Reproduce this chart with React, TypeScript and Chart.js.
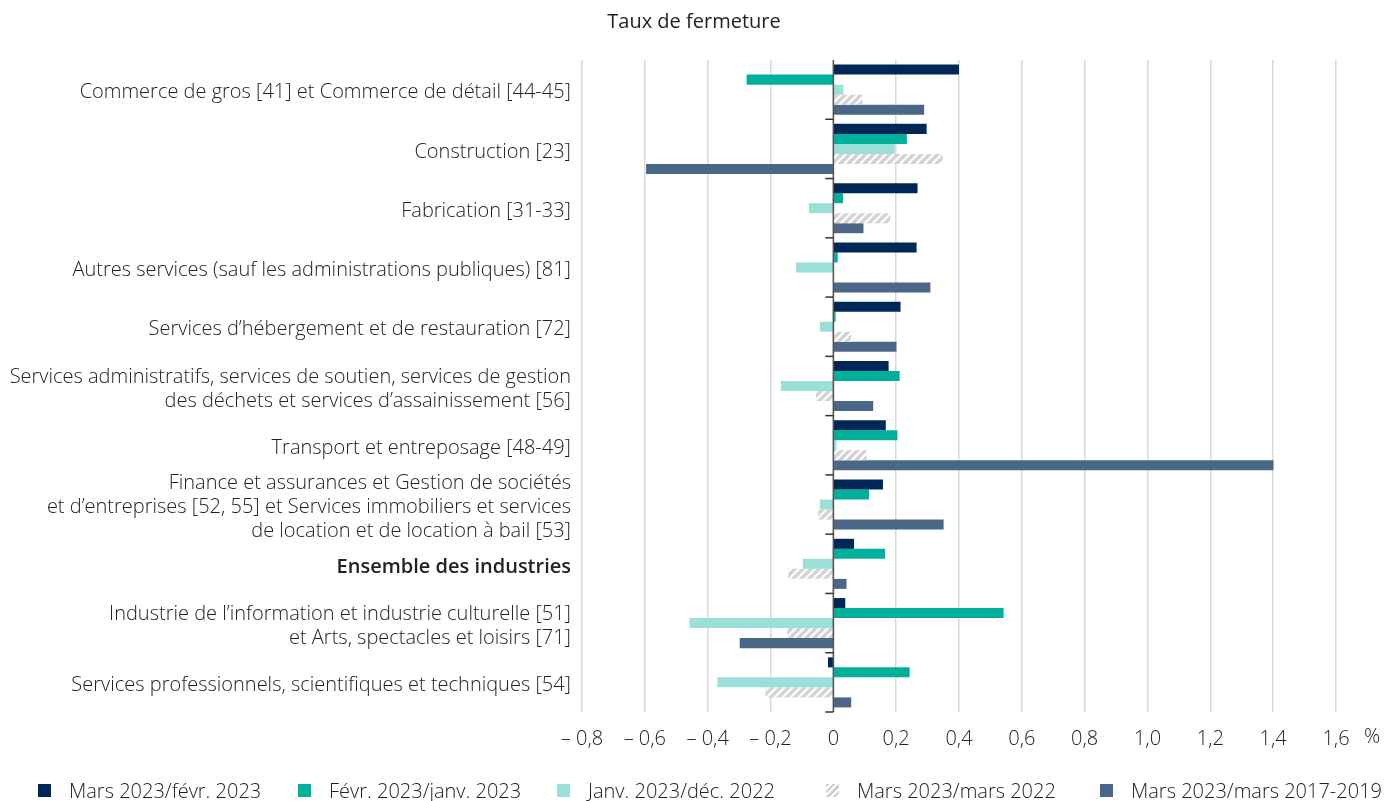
import React, { useEffect, useRef } from "react";
import { Chart, registerables } from "chart.js";

Chart.register(...registerables);

const titleText = "Taux de fermeture";

const categories: (string | string[])[] = [
  "Commerce de gros [41] et Commerce de détail [44-45]",
  "Construction [23]",
  "Fabrication [31-33]",
  "Autres services (sauf les administrations publiques) [81]",
  "Services d’hébergement et de restauration [72]",
  ["Services administratifs, services de soutien, services de gestion", "des déchets et services d’assainissement [56]"],
  "Transport et entreposage [48-49]",
  ["Finance et assurances et Gestion de sociétés", "et d’entreprises [52, 55] et Services immobiliers et services", "de location et de location à bail [53]"],
  "Ensemble des industries",
  ["Industrie de l’information et industrie culturelle [51]", "et Arts, spectacles et loisirs [71]"],
  "Services professionnels, scientifiques et techniques [54]",
];

const boldIndex = 8;

const seriesLabels = [
  "Mars 2023/févr. 2023",
  "Févr. 2023/janv. 2023",
  "Janv. 2023/déc. 2022",
  "Mars 2023/mars 2022",
  "Mars 2023/mars 2017-2019",
];

const marsFevr = [0.40, 0.297, 0.268, 0.265, 0.214, 0.176, 0.167, 0.158, 0.066, 0.038, -0.017];
const fevrJanv = [-0.276, 0.234, 0.031, 0.014, 0.007, 0.211, 0.204, 0.114, 0.165, 0.542, 0.243];
const janvDec = [0.032, 0.195, -0.078, -0.119, -0.043, -0.167, 0.010, -0.043, -0.097, -0.458, -0.369];
const marsMars2022 = [0.093, 0.348, 0.182, 0, 0.056, -0.055, 0.106, -0.049, -0.144, -0.147, -0.216];
const mars1719 = [0.289, -0.596, 0.096, 0.309, 0.201, 0.127, 1.401, 0.351, 0.042, -0.298, 0.057];

const xMin = -0.8;
const xMax = 1.6;
const xStep = 0.2;
const unitLabel = "%";

const colors = ["#002856", "#00b09b", "#9be0d8", "HATCH", "#4b6788"];
const FONT = "'Open Sans', 'DejaVu Sans', sans-serif";
const TEXT = "#222222";

function makeHatch(): CanvasPattern | string {
  const c = document.createElement("canvas");
  c.width = 8;
  c.height = 8;
  const g = c.getContext("2d");
  if (!g) return "#d6d6d6";
  g.fillStyle = "#d4d4d4";
  g.fillRect(0, 0, 8, 8);
  g.strokeStyle = "#ffffff";
  g.lineWidth = 2;
  g.beginPath();
  g.moveTo(0, 8); g.lineTo(8, 0);
  g.moveTo(-4, 4); g.lineTo(4, -4);
  g.moveTo(4, 12); g.lineTo(12, 4);
  g.stroke();
  const p = g.createPattern(c, "repeat");
  return p || "#d6d6d6";
}

function fmt(v: number): string {
  const r = Math.round(v * 10) / 10;
  if (Math.abs(r) < 1e-9) return "0";
  const s = Math.abs(r).toFixed(1).replace(".", ",");
  return r < 0 ? "– " + s : s;
}

const decorPlugin = {
  id: "decor",
  afterDatasetsDraw(chart: any) {
    const { ctx } = chart;
    const x = chart.scales.x;
    const y = chart.scales.y;
    const x0 = x.getPixelForValue(0);
    ctx.save();
    ctx.strokeStyle = "#555555";
    ctx.lineWidth = 1.5;
    ctx.beginPath();
    ctx.moveTo(x0, chart.chartArea.top);
    ctx.lineTo(x0, chart.chartArea.bottom);
    ctx.stroke();
    ctx.strokeStyle = "#333333";
    ctx.lineWidth = 1.5;
    for (let i = 1; i <= categories.length; i++) {
      const py = y.getPixelForValue(i - 0.5);
      ctx.beginPath();
      ctx.moveTo(x0 - 8, py);
      ctx.lineTo(x0, py);
      ctx.stroke();
    }
    ctx.fillStyle = TEXT;
    ctx.font = `300 20px ${FONT}`;
    ctx.textAlign = "center";
    ctx.textBaseline = "top";
    ctx.fillText(unitLabel, chart.chartArea.right + 36, x.top + 15);
    ctx.font = `400 20px ${FONT}`;
    ctx.textBaseline = "middle";
    ctx.fillText(titleText, chart.width / 2 + 2, 22);
    ctx.restore();
  },
};

const legendLefts = [38, 298, 557, 826, 1100];

export default function App() {
  const ref = useRef<HTMLCanvasElement | null>(null);

  useEffect(() => {
    if (!ref.current) return;
    const hatch = makeHatch();
    const data = [marsFevr, fevrJanv, janvDec, marsMars2022, mars1719];
    const chart = new Chart(ref.current, {
      type: "bar",
      data: {
        labels: categories as any,
        datasets: data.map((d, i) => ({
          label: seriesLabels[i],
          data: d,
          backgroundColor: colors[i] === "HATCH" ? (hatch as any) : colors[i],
          borderWidth: 0,
          barPercentage: 1,
          categoryPercentage: 0.845,
        })),
      },
      options: {
        indexAxis: "y",
        animation: false,
        responsive: false,
        maintainAspectRatio: false,
        layout: { padding: { left: 0, right: 48, top: 60, bottom: 49 } },
        plugins: {
          legend: { display: false },
          tooltip: { enabled: false },
          title: { display: false },
        },
        scales: {
          x: {
            type: "linear",
            min: xMin,
            max: xMax,
            ticks: {
              stepSize: xStep,
              callback: (v: any) => fmt(Number(v)),
              color: TEXT,
              font: { family: FONT, size: 20, weight: "300" as any },
              padding: 15,
              maxRotation: 0,
              autoSkip: false,
            },
            grid: {
              color: "#d9d9d9",
              lineWidth: 1.5,
              drawTicks: false,
            },
            border: { display: false },
            afterFit: (s: any) => { s.height = 40; },
          },
          y: {
            type: "category",
            ticks: {
              color: TEXT,
              padding: 11,
              autoSkip: false,
              labelOffset: 3,
              font: (c: any) => ({
                family: FONT,
                size: 20,
                weight: c.index === boldIndex ? "600" : "300",
                lineHeight: 1.2,
              }),
            },
            grid: { display: false, drawTicks: false },
            border: { display: false },
            afterFit: (s: any) => { s.width = 582; },
          },
        },
      },
      plugins: [decorPlugin],
    });
    return () => chart.destroy();
  }, []);

  return (
    <div style={{ position: "absolute", left: 0, top: 0, width: 1384, height: 801, background: "#fff" }}>
      <canvas ref={ref} width={1384} height={801} style={{ display: "block" }} />
      {seriesLabels.map((lab, i) => (
        <div
          key={lab}
          style={{
            position: "absolute",
            left: legendLefts[i],
            top: 778,
            height: 24,
            display: "flex",
            alignItems: "center",
            fontFamily: FONT,
            fontWeight: 300,
            fontSize: 20,
            color: TEXT,
            whiteSpace: "nowrap",
          }}
        >
          <span
            style={{
              display: "inline-block",
              width: 13,
              height: 13,
              marginRight: 18,
              background:
                colors[i] === "HATCH"
                  ? "repeating-linear-gradient(135deg, #d0d0d0 0px, #d0d0d0 2.5px, #ffffff 2.5px, #ffffff 4.5px)"
                  : colors[i],
            }}
          />
          {lab}
        </div>
      ))}
    </div>
  );
}
